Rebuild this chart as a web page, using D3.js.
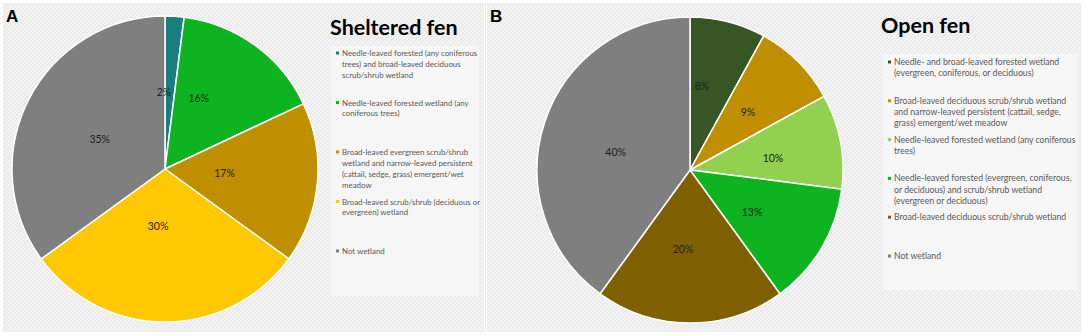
<!DOCTYPE html>
<html>
<head>
<meta charset="utf-8">
<script src="https://cdn.jsdelivr.net/npm/d3@7"></script>
<style>
  html, body { margin: 0; padding: 0; background: #ffffff; }
  svg { display: block; }
</style>
</head>
<body>
<svg id="chart" width="1084" height="336"></svg>
<script>
// ---------------- DATA ----------------
const shelteredCategories = [
  "Needle-leaved forested (any coniferous\ntrees) and broad-leaved deciduous\nscrub/shrub wetland",
  "Needle-leaved forested wetland (any\nconiferous trees)",
  "Broad-leaved evergreen scrub/shrub\nwetland and narrow-leaved persistent\n(cattail, sedge, grass) emergent/wet\nmeadow",
  "Broad-leaved scrub/shrub (deciduous or\nevergreen) wetland",
  "Not wetland"
];
const shelteredValues = [2, 16, 17, 30, 35];
const shelteredColors = ["#17807e", "#0db41f", "#bf8f00", "#ffc800", "#7f7f7f"];

const openCategories = [
  "Needle- and broad-leaved forested wetland\n(evergreen, coniferous, or deciduous)",
  "Broad-leaved deciduous scrub/shrub wetland\nand narrow-leaved persistent (cattail, sedge,\ngrass) emergent/wet meadow",
  "Needle-leaved forested wetland (any coniferous\ntrees)",
  "Needle-leaved forested (evergreen, coniferous,\nor deciduous) and scrub/shrub wetland\n(evergreen or deciduous)",
  "Broad-leaved deciduous scrub/shrub wetland",
  "Not wetland"
];
const openValues = [8, 9, 10, 13, 20, 40];
const openColors = ["#375623", "#bf8f00", "#92d050", "#0db41f", "#7f6000", "#7f7f7f"];

// ---------------- LAYOUT (not data) ----------------
const panels = [
  {
    letter: "A", title: "Sheltered fen",
    cats: shelteredCategories, vals: shelteredValues, cols: shelteredColors,
    px: 3, pw: 481, cx: 165, cy: 169, r: 153,
    titleX: 330, titleY: 35, titleSize: 21.5,
    legX: 331, legY: 46, legW: 148, legH: 250, legTextX: 342, legFirst: 56, legStep: 49.5,
    legFont: 7.9, legLine: 10.9,
    labR: [0.50, 0.51, 0.39, 0.375, 0.47],
    labShift: [-4.4, -10.4, -1.5, 7, -2.2]
  },
  {
    letter: "B", title: "Open fen",
    cats: openCategories, vals: openValues, cols: openColors,
    px: 487, pw: 594, cx: 690, cy: 170, r: 153,
    titleX: 881, titleY: 33, titleSize: 21.5,
    legX: 883, legY: 54, legW: 195, legH: 236, legTextX: 894, legFirst: 65, legStep: 38.8,
    legFont: 8.7, legLine: 11.2,
    labR: [0.555, 0.536, 0.548, 0.49, 0.52, 0.50],
    labShift: [-6.3, 0, 2.6, 3.5, 5, -4.5]
  }
];

const svg = d3.select("#chart");
const defs = svg.append("defs");
const pat = defs.append("pattern")
  .attr("id", "hatch").attr("patternUnits", "userSpaceOnUse")
  .attr("width", 4).attr("height", 4);
pat.append("rect").attr("width", 4).attr("height", 4).attr("fill", "#f2f2f2");
pat.append("path").attr("d", "M-1,1 l2,-2 M0,4 l4,-4 M3,5 l2,-2")
  .attr("stroke", "#e4e4e4").attr("stroke-width", 1);

const font = "Lato, 'Open Sans', sans-serif";

panels.forEach(p => {
  const g = svg.append("g");
  g.append("rect").attr("x", p.px).attr("y", 3).attr("width", p.pw).attr("height", 329)
    .attr("fill", "url(#hatch)");

  // panel letter
  g.append("text").attr("x", p.px + 3).attr("y", 22).text(p.letter)
    .attr("font-family", "'Liberation Sans', Arial, sans-serif").attr("font-weight", "bold")
    .attr("font-size", 17).attr("fill", "#000");

  // pie
  const pie = d3.pie().sort(null).value(d => d)(p.vals);
  const arc = d3.arc().innerRadius(0).outerRadius(p.r);
  const pg = g.append("g").attr("transform", `translate(${p.cx},${p.cy})`);
  pg.selectAll("path.slice").data(pie).join("path").attr("class", "slice")
    .attr("d", arc).attr("fill", (d, i) => p.cols[i])
    .attr("stroke", "#ffffff").attr("stroke-width", 1.5).attr("stroke-linejoin", "round");

  pg.selectAll("text.lab").data(pie).join("text").attr("class", "lab")
    .attr("transform", (d, i) => {
      const a = (d.startAngle + d.endAngle) / 2 + p.labShift[i] * Math.PI / 180;
      const rr = p.r * p.labR[i];
      return `translate(${rr * Math.sin(a)},${-rr * Math.cos(a)})`;
    })
    .attr("text-anchor", "middle").attr("dy", "0.35em")
    .attr("font-family", font).attr("font-size", 10.5).attr("fill", "#1e1e1e")
    .text(d => d.data + "%");

  // title
  g.append("text").attr("x", p.titleX).attr("y", p.titleY).text(p.title)
    .attr("font-family", font).attr("font-weight", "bold").attr("font-size", p.titleSize).attr("fill", "#000");

  // legend box
  g.append("rect").attr("x", p.legX).attr("y", p.legY).attr("width", p.legW).attr("height", p.legH)
    .attr("fill", "#fafafa").attr("opacity", 0.7);

  const items = g.selectAll("g.leg").data(p.cats).join("g").attr("class", "leg")
    .attr("transform", (d, i) => `translate(${p.legTextX},${p.legFirst + i * p.legStep})`);
  items.append("rect").attr("x", -6).attr("y", -4.5).attr("width", 3).attr("height", 3)
    .attr("fill", (d, i) => p.cols[i]);
  items.each(function(d) {
    const t = d3.select(this).append("text")
      .attr("font-family", font).attr("font-size", p.legFont).attr("fill", "#595959");
    d.split("\n").forEach((line, j) => {
      t.append("tspan").attr("x", 0).attr("y", j * p.legLine).text(line);
    });
  });
});

// divider between panels
svg.append("line").attr("x1", 485.5).attr("x2", 485.5).attr("y1", 3).attr("y2", 332)
  .attr("stroke", "#e6e6e6").attr("stroke-width", 1);
</script>
</body>
</html>
